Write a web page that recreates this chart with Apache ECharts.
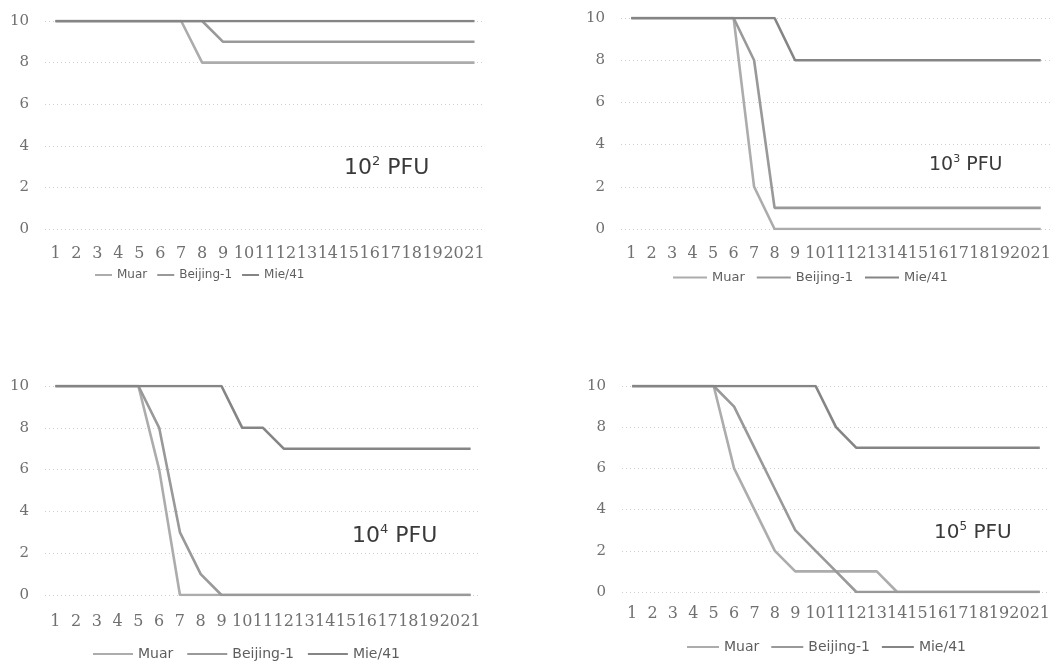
<!DOCTYPE html>
<html>
<head>
<meta charset="utf-8">
<script src="https://cdn.jsdelivr.net/npm/echarts@6/dist/echarts.min.js"></script>
<style>
    html, body { margin: 0; padding: 0; background: #fff; }
    #main { width: 1063px; height: 670px; }
</style>
</head>
<body>
<div id="main"></div>
<script>
//数据 - 开始
var days = ['1', '2', '3', '4', '5', '6', '7', '8', '9', '10', '11', '12', '13', '14', '15', '16', '17', '18', '19', '20', '21'];
var yTicks = [0, 2, 4, 6, 8, 10];
var seriesNames = ['Muar', 'Beijing-1', 'Mie/41'];

// 10^2 PFU
var muar_2 = [10, 10, 10, 10, 10, 10, 10, 8, 8, 8, 8, 8, 8, 8, 8, 8, 8, 8, 8, 8, 8];
var beijing_2 = [10, 10, 10, 10, 10, 10, 10, 10, 9, 9, 9, 9, 9, 9, 9, 9, 9, 9, 9, 9, 9];
var mie_2 = [10, 10, 10, 10, 10, 10, 10, 10, 10, 10, 10, 10, 10, 10, 10, 10, 10, 10, 10, 10, 10];

// 10^3 PFU
var muar_3 = [10, 10, 10, 10, 10, 10, 2, 0, 0, 0, 0, 0, 0, 0, 0, 0, 0, 0, 0, 0, 0];
var beijing_3 = [10, 10, 10, 10, 10, 10, 8, 1, 1, 1, 1, 1, 1, 1, 1, 1, 1, 1, 1, 1, 1];
var mie_3 = [10, 10, 10, 10, 10, 10, 10, 10, 8, 8, 8, 8, 8, 8, 8, 8, 8, 8, 8, 8, 8];

// 10^4 PFU
var muar_4 = [10, 10, 10, 10, 10, 6, 0, 0, 0, 0, 0, 0, 0, 0, 0, 0, 0, 0, 0, 0, 0];
var beijing_4 = [10, 10, 10, 10, 10, 8, 3, 1, 0, 0, 0, 0, 0, 0, 0, 0, 0, 0, 0, 0, 0];
var mie_4 = [10, 10, 10, 10, 10, 10, 10, 10, 10, 8, 8, 7, 7, 7, 7, 7, 7, 7, 7, 7, 7];

// 10^5 PFU
var muar_5 = [10, 10, 10, 10, 10, 6, 4, 2, 1, 1, 1, 1, 1, 0, 0, 0, 0, 0, 0, 0, 0];
var beijing_5 = [10, 10, 10, 10, 10, 9, 7, 5, 3, 2, 1, 0, 0, 0, 0, 0, 0, 0, 0, 0, 0];
var mie_5 = [10, 10, 10, 10, 10, 10, 10, 10, 10, 10, 8, 7, 7, 7, 7, 7, 7, 7, 7, 7, 7];
//数据 - 结束

var lineColors = ['#acacac', '#999999', '#858585'];
var labelColor = '#707070';

// 每个小图的位置
var panels = [
    { left: 45, top: 21, width: 440, height: 208, labelMargin: 17, data: [muar_2, beijing_2, mie_2],
      legendLeft: 90, legendTop: 264, legendFont: 12, legendItem: 17, legendGap: 10,
      noteX: 344, noteY: 168, noteSize: 22, power: '2' },
    { left: 621, top: 18, width: 430, height: 211, labelMargin: 17, data: [muar_3, beijing_3, mie_3],
      legendLeft: 668, legendTop: 266, legendFont: 13, legendItem: 34, legendGap: 12,
      noteX: 929, noteY: 165, noteSize: 19, power: '3' },
    { left: 45, top: 386, width: 436, height: 209, labelMargin: 19, data: [muar_4, beijing_4, mie_4],
      legendLeft: 88, legendTop: 642, legendFont: 14, legendItem: 40, legendGap: 14,
      noteX: 352, noteY: 536, noteSize: 22, power: '4' },
    { left: 622, top: 386, width: 428, height: 206, labelMargin: 14, data: [muar_5, beijing_5, mie_5],
      legendLeft: 682, legendTop: 635, legendFont: 14, legendItem: 32, legendGap: 12,
      noteX: 934, noteY: 533, noteSize: 20, power: '5' }
];

var chart = echarts.init(document.getElementById('main'));

var grids = [], xAxes = [], yAxes = [], series = [], legends = [], notes = [];

for (var p = 0; p < panels.length; p++) {
    var pn = panels[p];
    grids.push({ left: pn.left, top: pn.top, width: pn.width, height: pn.height });

    xAxes.push({
        type: 'category',
        gridIndex: p,
        data: days,
        boundaryGap: true,
        axisLine: { show: false },
        axisTick: { show: false },
        axisLabel: {
            interval: 0,
            margin: pn.labelMargin,
            color: labelColor,
            fontFamily: 'DejaVu Serif',
            fontSize: 16
        },
        splitLine: { show: false }
    });

    yAxes.push({
        type: 'value',
        gridIndex: p,
        min: yTicks[0],
        max: yTicks[yTicks.length - 1],
        interval: 2,
        axisLine: { show: false },
        axisTick: { show: false },
        axisLabel: {
            margin: 16,
            color: labelColor,
            fontFamily: 'DejaVu Serif',
            fontSize: 15
        },
        splitLine: { lineStyle: { color: '#cfcfcf', type: [1, 3], width: 1 } }
    });

    for (var s = 0; s < seriesNames.length; s++) {
        series.push({
            name: seriesNames[s],
            type: 'line',
            xAxisIndex: p,
            yAxisIndex: p,
            data: pn.data[s],
            showSymbol: false,
            symbol: 'none',
            color: lineColors[s],
            lineStyle: { width: 2.6, color: lineColors[s] },
            animation: false,
            z: 2 + s
        });
    }

    legends.push({
        data: seriesNames,
        left: pn.legendLeft,
        top: pn.legendTop,
        orient: 'horizontal',
        icon: 'rect',
        itemWidth: pn.legendItem,
        itemHeight: 2,
        itemGap: pn.legendGap,
        selectedMode: false,
        textStyle: { color: '#5e5e5e', fontFamily: 'DejaVu Sans', fontSize: pn.legendFont }
    });

    // 10^n PFU 标注
    notes.push({
        type: 'text',
        left: pn.noteX,
        top: pn.noteY - pn.noteSize * 0.6,
        style: {
            text: '{b|10}{s|' + pn.power + '}{b| PFU}',
            rich: {
                b: { fontFamily: 'DejaVu Sans', fontSize: pn.noteSize, fill: '#3a3a3a', lineHeight: pn.noteSize + 4 },
                s: { fontFamily: 'DejaVu Sans', fontSize: Math.round(pn.noteSize * 0.6), fill: '#3a3a3a', verticalAlign: 'top', lineHeight: pn.noteSize * 0.6 }
            }
        }
    });
}

chart.setOption({
    backgroundColor: '#ffffff',
    animation: false,
    grid: grids,
    xAxis: xAxes,
    yAxis: yAxes,
    legend: legends,
    series: series,
    graphic: notes
});
</script>
</body>
</html>
